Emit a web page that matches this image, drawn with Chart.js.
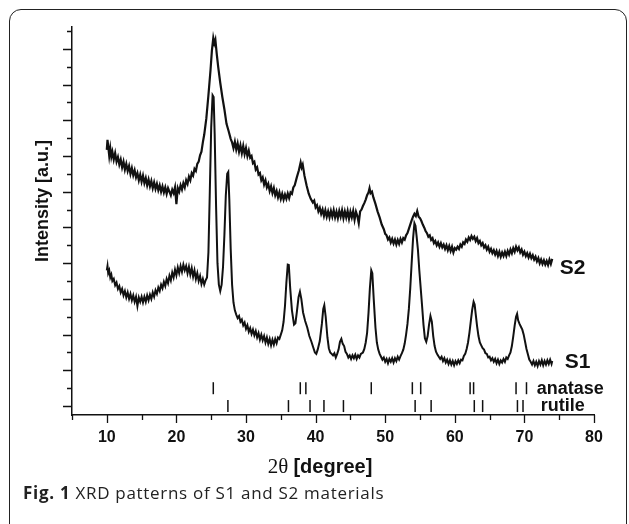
<!DOCTYPE html>
<html><head><meta charset="utf-8">
<script src="https://cdn.jsdelivr.net/npm/chart.js@4/dist/chart.umd.min.js"></script>
<style>
html,body{margin:0;padding:0;background:#fff;}
#wrap{position:relative;width:629px;height:524px;overflow:hidden;background:#fff;}
#frame{position:absolute;left:9px;top:9px;width:616px;height:540px;border:1.5px solid #222;border-radius:12px;}
#cv{position:absolute;left:0;top:0;}
#cap{position:absolute;left:23px;top:483px;line-height:20px;font-family:'Open Sans','Noto Sans',sans-serif;font-size:17px;letter-spacing:0.7px;color:#222;white-space:nowrap;}
</style></head>
<body><div id="wrap"><div id="frame"></div><canvas id="cv" width="629" height="524"></canvas><div id="cap"><b>Fig. 1</b> XRD patterns of S1 and S2 materials</div></div>
<script>
// ---- data ----
const s2Angle = [10.0,10.1,10.2,10.35,10.5,10.65,10.8,11.0,11.2,11.4,
11.6,11.8,12.0,12.2,12.4,12.6,12.8,13.0,13.2,13.4,
13.6,13.8,14.0,14.2,14.4,14.6,14.8,15.0,15.2,15.4,
15.6,15.8,16.0,16.2,16.4,16.6,16.8,17.0,17.2,17.4,
17.6,17.8,18.0,18.2,18.4,18.6,18.8,19.0,19.2,19.4,
19.6,19.8,20.0,20.2,20.4,20.6,20.8,21.0,21.2,21.4,
21.6,21.8,22.0,22.2,22.4,22.6,22.8,23.0,23.2,23.4,
23.6,23.8,24.0,24.3,24.6,24.9,25.1,25.3,25.45,25.6,
25.8,26.0,26.3,26.6,26.9,27.2,27.5,27.8,28.0,28.2,
28.4,28.6,28.8,29.0,29.2,29.4,29.6,29.8,30.0,30.2,
30.4,30.6,30.8,31.0,31.2,31.4,31.6,31.8,32.0,32.2,
32.4,32.6,32.8,33.0,33.2,33.4,33.6,33.8,34.0,34.2,
34.4,34.6,34.8,35.0,35.2,35.4,35.6,35.8,36.0,36.2,
36.4,36.6,36.8,37.0,37.3,37.6,37.85,38.0,38.15,38.4,
38.7,39.0,39.3,39.6,39.8,40.0,40.2,40.4,40.6,40.8,
41.0,41.2,41.4,41.6,41.8,42.0,42.2,42.4,42.6,42.8,
43.0,43.2,43.4,43.6,43.8,44.0,44.2,44.4,44.6,44.8,
45.0,45.2,45.4,45.6,45.8,46.0,46.2,46.4,46.6,46.8,
47.0,47.2,47.4,47.6,47.75,47.9,48.1,48.3,48.6,48.9,
49.2,49.5,49.8,50.0,50.2,50.4,50.6,50.8,51.0,51.2,
51.4,51.6,51.8,52.0,52.2,52.4,52.6,52.8,53.0,53.2,
53.4,53.6,53.8,54.0,54.2,54.4,54.6,54.8,55.0,55.2,
55.4,55.6,55.8,56.0,56.2,56.4,56.6,56.8,57.0,57.2,
57.4,57.6,57.8,58.0,58.2,58.4,58.6,58.8,59.0,59.2,
59.4,59.6,59.8,60.0,60.2,60.4,60.6,60.8,61.0,61.2,
61.4,61.6,61.8,62.0,62.2,62.4,62.6,62.8,63.0,63.2,
63.4,63.6,63.8,64.0,64.2,64.4,64.6,64.8,65.0,65.2,
65.4,65.6,65.8,66.0,66.2,66.4,66.6,66.8,67.0,67.2,
67.4,67.6,67.8,68.0,68.2,68.4,68.6,68.8,69.0,69.2,
69.4,69.6,69.8,70.0,70.2,70.4,70.6,70.8,71.0,71.2,
71.4,71.6,71.8,72.0,72.2,72.4,72.6,72.8,73.0,73.2,
73.4,73.6,73.8,74.0];
const s2Intensity = [717,745,728,700,722,698,712,690,708,684,
697,676,690,668,684,662,678,658,672,650,
666,646,660,640,652,632,648,628,645,624,
638,618,634,615,630,610,626,608,622,604,
618,600,615,598,612,594,610,600,590,606,
596,612,565,610,600,618,606,624,612,632,
622,642,632,652,645,664,658,678,684,702,
712,738,760,805,870,940,995,1030,1015,1025,
985,950,905,865,830,790,770,748,738,722,
740,718,735,712,730,708,728,705,722,700,
715,695,700,680,684,662,668,648,652,632,
640,620,632,612,622,602,615,596,610,590,
602,584,598,580,594,578,592,580,595,582,
598,594,612,618,640,660,682,668,676,645,
618,595,580,570,575,556,562,545,555,538,
550,532,548,530,545,528,546,530,548,528,
544,526,546,530,548,526,545,528,546,524,
544,528,546,522,544,532,512,545,550,560,
568,578,590,598,610,596,600,584,566,545,
528,508,495,482,478,466,472,458,468,455,
466,452,465,454,468,458,470,466,478,484,
496,508,520,530,538,532,546,530,526,518,
508,500,490,484,474,478,465,470,456,462,
450,458,446,456,444,452,440,450,436,448,
434,446,430,442,438,446,440,452,446,458,
454,466,460,472,465,476,468,474,462,470,
456,462,450,456,444,450,438,446,432,440,
428,436,424,434,420,432,418,430,420,432,
420,434,424,438,428,442,432,446,436,444,
430,438,424,432,420,428,416,426,414,422,
410,418,405,414,400,410,398,408,396,406,
395,410,398,412];

const s1Angle = [10.0,10.1,10.2,10.35,10.5,10.65,10.8,11.0,11.2,11.4,
11.6,11.8,12.0,12.2,12.4,12.6,12.8,13.0,13.2,13.4,
13.6,13.8,14.0,14.2,14.4,14.6,14.8,15.0,15.2,15.4,
15.6,15.8,16.0,16.2,16.4,16.6,16.8,17.0,17.2,17.4,
17.6,17.8,18.0,18.2,18.4,18.6,18.8,19.0,19.2,19.4,
19.6,19.8,20.0,20.2,20.4,20.6,20.8,21.0,21.2,21.4,
21.6,21.8,22.0,22.2,22.4,22.6,22.8,23.0,23.2,23.4,
23.6,23.8,24.0,24.2,24.4,24.6,24.8,25.0,25.2,25.35,
25.5,25.7,25.9,26.1,26.3,26.5,26.7,26.9,27.1,27.3,
27.45,27.6,27.8,28.0,28.2,28.4,28.6,28.8,29.0,29.2,
29.4,29.6,29.8,30.0,30.2,30.4,30.6,30.8,31.0,31.2,
31.4,31.6,31.8,32.0,32.2,32.4,32.6,32.8,33.0,33.2,
33.4,33.6,33.8,34.0,34.2,34.4,34.6,34.8,35.0,35.2,
35.4,35.6,35.8,36.0,36.15,36.35,36.6,36.9,37.1,37.3,
37.55,37.75,37.95,38.2,38.5,38.8,39.1,39.4,39.7,39.9,
40.1,40.3,40.6,40.9,41.1,41.25,41.45,41.7,41.9,42.1,
42.3,42.5,42.7,42.9,43.1,43.3,43.5,43.7,43.9,44.1,
44.3,44.5,44.7,44.9,45.1,45.3,45.5,45.7,45.9,46.1,
46.3,46.5,46.8,47.0,47.2,47.4,47.6,47.8,48.0,48.15,
48.35,48.6,48.8,49.0,49.2,49.4,49.6,49.8,50.0,50.2,
50.4,50.6,50.8,51.0,51.2,51.4,51.6,51.8,52.0,52.2,
52.4,52.6,52.8,53.0,53.2,53.4,53.6,53.8,54.0,54.2,
54.35,54.5,54.7,54.9,55.1,55.3,55.5,55.7,55.9,56.1,
56.3,56.5,56.7,56.9,57.1,57.3,57.5,57.7,57.9,58.1,
58.3,58.5,58.7,58.9,59.1,59.3,59.5,59.7,59.9,60.1,
60.3,60.5,60.7,60.9,61.1,61.3,61.5,61.7,61.9,62.1,
62.3,62.5,62.7,62.85,63.0,63.2,63.4,63.6,63.8,64.0,
64.2,64.4,64.6,64.8,65.0,65.2,65.4,65.6,65.8,66.0,
66.2,66.4,66.6,66.8,67.0,67.2,67.4,67.6,67.8,68.0,
68.2,68.4,68.6,68.8,68.95,69.1,69.3,69.5,69.7,69.9,
70.1,70.3,70.5,70.7,70.9,71.1,71.3,71.5,71.7,71.9,
72.1,72.3,72.5,72.7,72.9,73.1,73.3,73.5,73.7,73.9,74.0];
const s1Intensity = [380,392,372,380,360,368,350,356,338,346,
328,336,318,328,310,322,304,318,300,314,
296,310,292,306,280,304,292,306,290,306,
292,310,296,312,300,318,306,324,314,332,
322,340,330,348,336,356,344,365,352,374,
360,382,366,388,372,392,376,396,380,392,
372,390,368,386,362,380,356,372,350,364,
342,356,340,352,360,430,600,780,870,865,
760,560,400,340,322,340,390,480,590,650,
655,580,440,340,290,268,256,246,252,236,
242,226,234,216,226,208,218,202,214,198,
210,192,204,186,200,184,196,178,192,174,
188,170,186,172,188,176,192,188,200,212,
236,280,345,396,395,330,268,228,232,262,
305,320,300,262,238,220,196,180,162,150,
146,158,182,230,272,282,250,192,162,150,
146,142,148,136,146,158,180,188,174,168,
152,146,136,142,132,142,134,144,132,142,
136,146,150,160,178,205,260,330,380,372,
300,220,178,158,146,138,130,136,124,132,
120,132,124,134,122,134,126,138,130,140,
148,158,175,200,230,272,330,400,468,512,
505,478,438,380,330,280,228,190,180,196,
228,252,236,196,168,152,144,138,132,138,
126,134,122,130,118,128,116,126,114,126,
118,128,120,130,128,140,146,160,178,205,
238,270,292,284,258,224,196,178,170,162,
158,148,146,136,138,128,134,124,132,120,
130,118,128,122,132,124,136,132,142,150,
168,195,225,250,258,240,230,222,214,200,
180,160,145,130,124,116,126,114,124,112,
126,116,128,114,126,116,128,118,130,118,126];

const anatasePeaks = [25.3, 37.8, 38.6, 48.0, 53.9, 55.1, 62.2, 62.7, 68.8, 70.3];
const rutilePeaks  = [27.4, 36.1, 39.2, 41.2, 44.0, 54.3, 56.6, 62.8, 64.0, 69.0, 69.8];
const xTickValues  = [5,10,15,20,25,30,35,40,45,50,55,60,65,70,75,80];
const xTickLabels  = ['', '10', '', '20', '', '30', '', '40', '', '50', '', '60', '', '70', '', '80'];
const yMajorTicks  = [0,100,200,300,400,500,600,700,800,900,1000];
const yMinorTicks  = [50,150,250,350,450,550,650,750,850,950,1050];
const seriesNames  = ['S2', 'S1'];
const phaseNames   = ['anatase', 'rutile'];
const yTitle = 'Intensity [a.u.]';

// ---- layout constants (not data) ----
const ANATASE_ROW = 50, RUTILE_ROW = 0;
const INK = '#111';
const SANS = '"Liberation Sans", Arial, Helvetica, sans-serif';

function pairs(xs, ys){ const n=Math.min(xs.length, ys.length); const out=[]; for(let i=0;i<n;i++) out.push({x:xs[i], y:ys[i]}); return out; }

const annot = {
  id: 'annot',
  afterDraw(chart){
    const ctx = chart.ctx, xs = chart.scales.x, ys = chart.scales.y;
    ctx.save();
    ctx.strokeStyle = INK; ctx.lineWidth = 1.3;
    ctx.beginPath();
    xTickValues.forEach(v => {
      const p = Math.round(xs.getPixelForValue(v)) + 0.5;
      const L = (v % 10 === 0) ? 8 : 5;
      ctx.moveTo(p, ys.bottom); ctx.lineTo(p, ys.bottom + L);
    });
    yMajorTicks.forEach(v => {
      const p = Math.round(ys.getPixelForValue(v)) + 0.5;
      ctx.moveTo(xs.left, p); ctx.lineTo(xs.left - 9, p);
    });
    yMinorTicks.forEach(v => {
      const p = Math.round(ys.getPixelForValue(v)) + 0.5;
      ctx.moveTo(xs.left, p); ctx.lineTo(xs.left - 5, p);
    });
    ctx.stroke();

    ctx.fillStyle = INK;
    // y title
    ctx.save();
    ctx.font = 'bold 18px ' + SANS;
    ctx.translate(43, 201); ctx.rotate(-Math.PI/2);
    ctx.textAlign = 'center'; ctx.textBaseline = 'middle';
    ctx.fillText(yTitle, 0, 0);
    ctx.restore();

    // x title: "2θ" serif regular + "[degree]" bold sans
    ctx.textBaseline = 'alphabetic'; ctx.textAlign = 'left';
    const t1 = '2\u03B8 ', t2 = '[degree]';
    ctx.font = '21px "Liberation Serif", "Times New Roman", serif';
    const w1 = ctx.measureText(t1).width;
    ctx.font = 'bold 20px ' + SANS;
    const w2 = ctx.measureText(t2).width;
    const x0 = 320 - (w1 + w2) / 2;
    ctx.font = '21px "Liberation Serif", "Times New Roman", serif';
    ctx.fillText(t1, x0, 473);
    ctx.font = 'bold 20px ' + SANS;
    ctx.fillText(t2, x0 + w1, 473);

    // series labels
    ctx.font = 'bold 21px ' + SANS;
    ctx.fillText(seriesNames[0], xs.getPixelForValue(75.07), ys.getPixelForValue(371));
    ctx.fillText(seriesNames[1], xs.getPixelForValue(75.8), ys.getPixelForValue(107));
    // phase labels
    ctx.font = 'bold 18px ' + SANS;
    ctx.fillText(phaseNames[0], xs.getPixelForValue(71.77), ys.getPixelForValue(34));
    ctx.fillText(phaseNames[1], xs.getPixelForValue(72.35), ys.getPixelForValue(-14.5));
    ctx.restore();
  }
};

new Chart(document.getElementById('cv'), {
  type: 'line',
  data: {
    datasets: [
      { label: seriesNames[0], data: pairs(s2Angle, s2Intensity), borderColor: INK, borderWidth: 2.2, pointRadius: 0, tension: 0, fill: false },
      { label: seriesNames[1], data: pairs(s1Angle, s1Intensity), borderColor: INK, borderWidth: 2, pointRadius: 0, tension: 0, fill: false },
      { label: phaseNames[0], type: 'scatter', data: anatasePeaks.map(a => ({x: a, y: ANATASE_ROW})), showLine: false,
        pointStyle: 'line', rotation: 90, pointRadius: 6, pointBorderWidth: 1.5, pointBorderColor: INK, borderColor: INK },
      { label: phaseNames[1], type: 'scatter', data: rutilePeaks.map(a => ({x: a, y: RUTILE_ROW})), showLine: false,
        pointStyle: 'line', rotation: 90, pointRadius: 6, pointBorderWidth: 1.5, pointBorderColor: INK, borderColor: INK }
    ]
  },
  options: {
    responsive: false,
    animation: false,
    events: [],
    layout: { padding: { left: 0, top: 27, right: 35, bottom: 79 } },
    plugins: { legend: { display: false }, tooltip: { enabled: false } },
    scales: {
      x: {
        type: 'linear', min: 5, max: 80,
        grid: { display: false, drawTicks: false },
        border: { display: true, color: INK, width: 1.5 },
        afterBuildTicks: (s) => { s.ticks = xTickValues.map(v => ({ value: v })); },
        ticks: {
          autoSkip: false, maxRotation: 0, padding: 13, color: INK,
          font: { family: SANS, size: 16, weight: 'bold' },
          callback: (v) => { const i = xTickValues.indexOf(v); return i >= 0 ? xTickLabels[i] : ''; }
        },
        afterFit: (s) => { s.height = 30; }
      },
      y: {
        type: 'linear', min: -25, max: 1061,
        grid: { display: false, drawTicks: false },
        border: { display: true, color: INK, width: 1.5 },
        ticks: { display: false },
        afterFit: (s) => { s.width = 72; }
      }
    }
  },
  plugins: [annot]
});
</script>
</body></html>
